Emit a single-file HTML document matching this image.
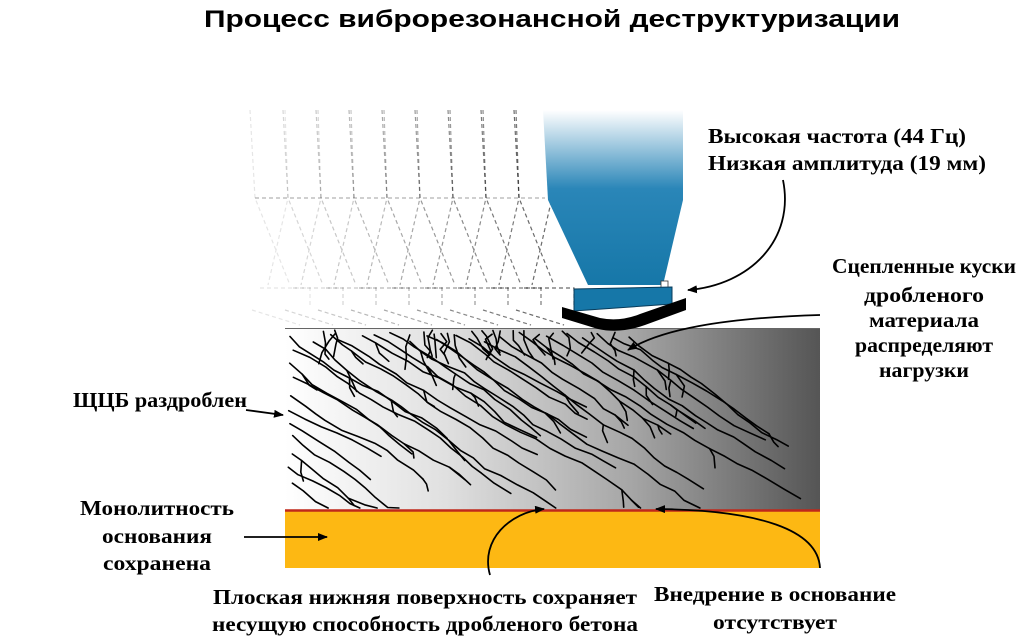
<!DOCTYPE html>
<html><head><meta charset="utf-8"><style>
html,body{margin:0;padding:0;background:#fff;width:1024px;height:643px;overflow:hidden}
svg{display:block}
.t{font-family:"Liberation Serif","DejaVu Serif",serif;font-weight:bold;font-size:21px;fill:#000}
</style></head><body>
<svg width="1024" height="643" viewBox="0 0 1024 643" xmlns="http://www.w3.org/2000/svg">
<defs>
<linearGradient id="g1" x1="0" y1="0" x2="1" y2="0">
<stop offset="0" stop-color="#fff"/><stop offset="0.3" stop-color="#e0e0e0"/><stop offset="0.65" stop-color="#a5a5a5"/><stop offset="1" stop-color="#555"/>
</linearGradient>
<linearGradient id="bl" x1="0" y1="0" x2="0" y2="1">
<stop offset="0" stop-color="#fff"/><stop offset="0.45" stop-color="#2a86b8"/><stop offset="1" stop-color="#1677a8"/>
</linearGradient>
<marker id="ah" markerWidth="10" markerHeight="8" refX="9" refY="4" orient="auto" markerUnits="userSpaceOnUse"><path d="M0,0 L10,4 L0,8 z" fill="#000"/></marker>
</defs>
<text x="552" y="27" text-anchor="middle" font-family="Liberation Sans,Arial,sans-serif" font-weight="bold" font-size="24" textLength="696" lengthAdjust="spacingAndGlyphs">Процесс виброрезонансной деструктуризации</text>

<g id="ghosts" fill="none" stroke-dasharray="4,3" stroke-width="1.2"></g>

<rect x="285" y="328" width="535" height="182" fill="url(#g1)"/>
<line x1="285" y1="328.5" x2="820" y2="328.5" stroke="#666" stroke-width="1"/>
<g id="cracks" fill="none" stroke="#000" stroke-width="1.6" stroke-linecap="round" stroke-linejoin="round"></g>
<rect x="285" y="511" width="535" height="57" fill="#fdb813"/>
<line x1="285" y1="510.5" x2="820" y2="510.5" stroke="#c0281a" stroke-width="2.5"/>

<path d="M543,110 L683,110 L683,200 L663,285 L588,285 L548,200 Z" fill="url(#bl)"/>
<rect x="661" y="281" width="7" height="7" fill="#fff" stroke="#333" stroke-width="0.8"/>
<path d="M574,289 L672,287 L672,304 L574,311 Z" fill="#1677a8" stroke="#083b5a" stroke-width="1"/>
<path d="M562,307 L600,318 Q620,322 640,314 L686,298 L686,310 L645,325 Q620,334 598,329 L562,318 Z" fill="#000"/>

<g fill="none" stroke="#000" stroke-width="1.8">
<path d="M783,180 C795,240 750,285 688,290" marker-end="url(#ah)"/>
<path d="M820,315 C720,318 660,330 628,350" marker-end="url(#ah)"/>
<path d="M246,410 L283,415" marker-end="url(#ah)"/>
<path d="M244,537 L327,537" marker-end="url(#ah)"/>
<path d="M490,575 C480,540 510,512 544,509" marker-end="url(#ah)"/>
<path d="M820,568 C818,530 760,510 656,509" marker-end="url(#ah)"/>
</g>

<text class="t" x="708" y="143" textLength="258" lengthAdjust="spacingAndGlyphs">Высокая частота (44 Гц)</text>
<text class="t" x="708" y="170" textLength="278" lengthAdjust="spacingAndGlyphs">Низкая амплитуда (19 мм)</text>
<g text-anchor="middle">
<text class="t" x="924" y="273" textLength="184" lengthAdjust="spacingAndGlyphs">Сцепленные куски</text>
<text class="t" x="924" y="302" textLength="120" lengthAdjust="spacingAndGlyphs">дробленого</text>
<text class="t" x="924" y="327" textLength="110" lengthAdjust="spacingAndGlyphs">материала</text>
<text class="t" x="924" y="352" textLength="138" lengthAdjust="spacingAndGlyphs">распределяют</text>
<text class="t" x="924" y="377" textLength="90" lengthAdjust="spacingAndGlyphs">нагрузки</text>
<text class="t" x="157" y="515" textLength="154" lengthAdjust="spacingAndGlyphs">Монолитность</text>
<text class="t" x="157" y="543" textLength="110" lengthAdjust="spacingAndGlyphs">основания</text>
<text class="t" x="157" y="570" textLength="108" lengthAdjust="spacingAndGlyphs">сохранена</text>
<text class="t" x="425" y="604" textLength="424" lengthAdjust="spacingAndGlyphs">Плоская нижняя поверхность сохраняет</text>
<text class="t" x="425" y="631" textLength="426" lengthAdjust="spacingAndGlyphs">несущую способность дробленого бетона</text>
<text class="t" x="775" y="601" textLength="242" lengthAdjust="spacingAndGlyphs">Внедрение в основание</text>
<text class="t" x="775" y="629" textLength="124" lengthAdjust="spacingAndGlyphs">отсутствует</text>
</g>
<text class="t" x="73" y="407" textLength="174" lengthAdjust="spacingAndGlyphs">ЩЦБ раздроблен</text>
</svg>
<script>
(function(){
var s=11;function r(){s=(s*16807)%2147483647;return s/2147483647;}
var NS="http://www.w3.org/2000/svg";
var g=document.getElementById("cracks");
function add(d){var p=document.createElementNS(NS,"path");p.setAttribute("d",d);g.appendChild(p);}
function crack(x,y,len){var d="M"+x.toFixed(1)+","+y.toFixed(1);
 for(var i=0;i<len;i++){x+=9+r()*8;y+=6+r()*5;
  if(y>508){y=508;d+=" L"+x.toFixed(1)+","+y.toFixed(1);break;}
  if(x>812)break;
  d+=" L"+x.toFixed(1)+","+y.toFixed(1);
  if(r()<0.1){var bx=x,by=y,bd="M"+bx.toFixed(1)+","+by.toFixed(1);for(var k=0;k<2;k++){bx+=(r()-0.2)*12;by+=4+r()*8;if(by>508)break;bd+=" L"+bx.toFixed(1)+","+by.toFixed(1);}add(bd);}
 }
 add(d);}
for(var i=0;i<22;i++){var x=290+i*16+r()*10,y=332+r()*10;crack(x,y,8+Math.floor(r()*14));}
for(var i=0;i<10;i++){var x=288+r()*6,y=345+i*15+r()*6;crack(x,y,6+Math.floor(r()*14));}
for(var i=0;i<22;i++){var x=300+r()*320,y=330+r()*6;var d="M"+x.toFixed(1)+","+y.toFixed(1);for(var k=0;k<3;k++){x+=(r()-0.5)*14;y+=5+r()*8;d+=" L"+x.toFixed(1)+","+y.toFixed(1);}add(d);}
var gh=document.getElementById("ghosts");
for(var i=0;i<9;i++){var ox=250+i*33,op=0.1+i*0.06;
 var p=document.createElementNS(NS,"path");
 p.setAttribute("d","M"+ox+",110 L"+(ox+5)+",198 L"+(ox+40)+",285 M"+(ox+35)+",110 L"+(ox+38)+",198 L"+(ox+18)+",285 M"+(ox+10)+",288 L"+(ox+60)+",288 L"+(ox+60)+",305 M"+(ox+2)+",310 L"+(ox+50)+",325");
 p.setAttribute("stroke","rgba(0,0,0,"+op.toFixed(2)+")");gh.appendChild(p);}
var l=document.createElementNS(NS,"path");l.setAttribute("d","M255,198 L545,198");l.setAttribute("stroke","rgba(0,0,0,0.3)");gh.appendChild(l);
})();
</script>
</body></html>
